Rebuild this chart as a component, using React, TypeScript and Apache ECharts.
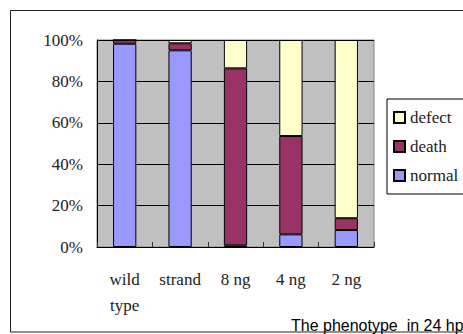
import React, { useEffect, useRef } from "react";
import * as echarts from "echarts";

const categories = ["wild\ntype", "strand", "8 ng", "4 ng", "2 ng"];
const normal = [98.2, 95.0, 0.8, 6.1, 8.2];
const death = [1.8, 3.4, 85.5, 47.5, 5.7];
const defect = [0, 1.6, 13.7, 46.4, 86.1];
const yTicks = [0, 20, 40, 60, 80, 100];
const legendOrder = ["defect", "death", "normal"];
const titleText = "The phenotype  in 24 hp";

const serif = "Liberation Serif";

export default function App() {
  const ref = useRef<HTMLDivElement>(null);
  useEffect(() => {
    if (!ref.current) return;
    const chart = echarts.init(ref.current, undefined, { renderer: "svg" });
    const barStyle = (color: string) => ({
      color,
      borderColor: "#000",
      borderWidth: 1,
    });
    chart.setOption({
      animation: false,
      backgroundColor: "#fff",
      grid: {
        left: 97,
        top: 40,
        width: 277,
        height: 207,
        show: true,
        backgroundColor: "#c0c0c0",
        borderColor: "#808080",
        borderWidth: 1,
      },
      legend: {
        orient: "vertical",
        left: 387,
        top: 99,
        data: legendOrder,
        icon: "rect",
        itemWidth: 11,
        itemHeight: 11,
        itemGap: 12,
        padding: [10, 30, 10, 6],
        backgroundColor: "#fff",
        borderColor: "#000",
        borderWidth: 1,
        borderRadius: 0,
        textStyle: { fontFamily: serif, fontSize: 17, color: "#222" },
        selectedMode: false,
      },
      xAxis: {
        type: "category",
        data: categories,
        axisLine: { lineStyle: { color: "#000", width: 1 } },
        axisTick: { show: true, inside: true, length: 5, lineStyle: { color: "#333" } },
        axisLabel: {
          fontFamily: serif,
          fontSize: 17,
          color: "#222",
          margin: 19,
          lineHeight: 26,
          interval: 0,
        },
        splitLine: { show: false },
      },
      yAxis: {
        type: "value",
        min: yTicks[0],
        max: yTicks[yTicks.length - 1],
        interval: 20,
        axisLine: { show: true, lineStyle: { color: "#000", width: 1 } },
        axisTick: { show: true, inside: true, length: 5, lineStyle: { color: "#000" } },
        axisLabel: {
          fontFamily: serif,
          fontSize: 17,
          color: "#222",
          margin: 14,
          formatter: "{value}%",
        },
        splitLine: { show: true, lineStyle: { color: "#000", width: 1 } },
      },
      series: [
        { name: "normal", type: "bar", stack: "all", data: normal, barWidth: "42%", itemStyle: barStyle("#9999ff") },
        { name: "death", type: "bar", stack: "all", data: death, barWidth: "42%", itemStyle: barStyle("#993366") },
        { name: "defect", type: "bar", stack: "all", data: defect, barWidth: "42%", itemStyle: barStyle("#ffffcc") },
      ],
      graphic: [
        {
          type: "text",
          left: 291,
          top: 317,
          style: {
            text: titleText,
            font: "16px 'Liberation Sans', Arial, sans-serif",
            fill: "#000",
          },
          z: 10,
        },
        {
          type: "rect",
          shape: { x: 10.5, y: 10.5, width: 500, height: 321.5 },
          style: { fill: "none", stroke: "#222", lineWidth: 1 },
          z: 20,
        },
      ],
    });
    return () => chart.dispose();
  }, []);
  return (
    <div
      ref={ref}
      style={{ position: "fixed", left: 0, top: 0, width: 463, height: 334 }}
    />
  );
}
